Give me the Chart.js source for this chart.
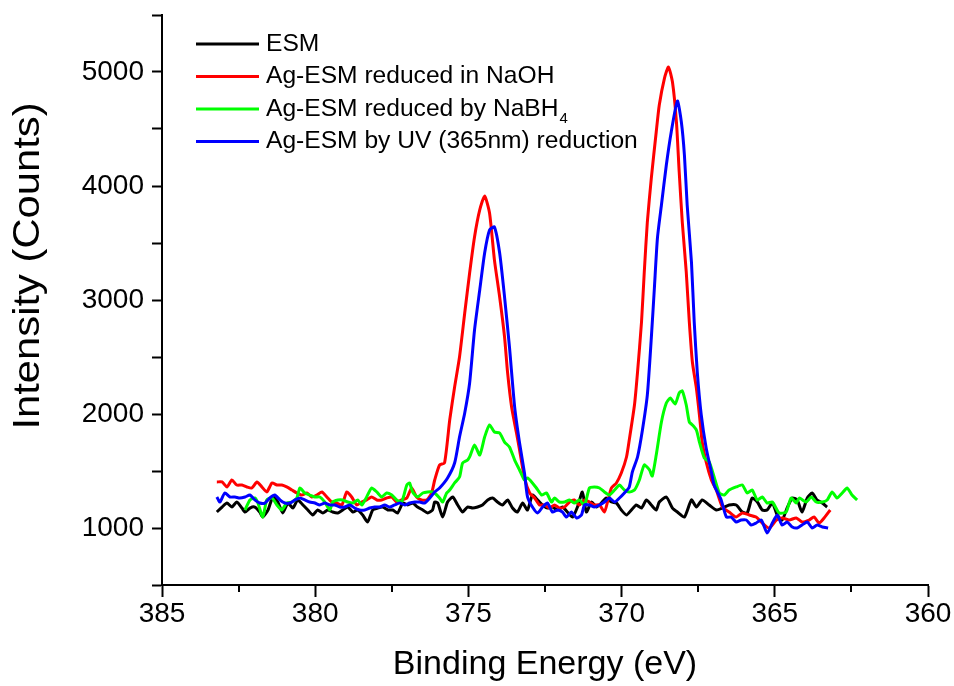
<!DOCTYPE html>
<html>
<head>
<meta charset="utf-8">
<script src="https://cdn.jsdelivr.net/npm/chart.js@4.4.1/dist/chart.umd.min.js"></script>
<style>
  html, body { margin: 0; padding: 0; background: #fff; }
  #wrap { width: 954px; height: 686px; position: relative; }
</style>
</head>
<body>
<div id="wrap"><canvas id="xpsChart"></canvas></div>
<script>
// Ag 3d XPS spectra, binding energy (eV) vs intensity (counts)
const esmE = [383.21, 383.04, 382.88, 382.72, 382.56, 382.39, 382.29, 382.13, 381.97, 381.81, 381.71, 381.54, 381.38, 381.22, 381.06, 380.89, 380.73, 380.57, 380.40, 380.24, 380.08, 379.92, 379.75, 379.59, 379.43, 379.26, 379.10, 378.94, 378.77, 378.61, 378.45, 378.29, 378.12, 377.96, 377.80, 377.63, 377.47, 377.31, 377.14, 376.98, 376.82, 376.66, 376.49, 376.33, 376.17, 376.10, 376.00, 375.84, 375.68, 375.51, 375.35, 375.19, 375.03, 374.86, 374.70, 374.54, 374.37, 374.21, 374.05, 373.89, 373.72, 373.56, 373.40, 373.23, 373.07, 372.91, 372.74, 372.58, 372.42, 372.26, 372.09, 371.93, 371.77, 371.60, 371.44, 371.28, 371.15, 370.98, 370.82, 370.66, 370.50, 370.33, 370.17, 370.01, 369.84, 369.68, 369.52, 369.35, 369.19, 369.03, 368.87, 368.77, 368.54, 368.34, 368.18, 367.95, 367.72, 367.56, 367.37, 367.14, 366.91, 366.71, 366.49, 366.26, 366.06, 365.90, 365.74, 365.57, 365.41, 365.25, 365.08, 364.92, 364.76, 364.60, 364.43, 364.27, 364.11, 363.94, 363.78, 363.62, 363.45, 363.29];
const esmI = [1140, 1184, 1219, 1184, 1228, 1175, 1140, 1175, 1184, 1140, 1096, 1158, 1272, 1228, 1132, 1219, 1175, 1246, 1202, 1158, 1114, 1158, 1132, 1158, 1140, 1132, 1158, 1184, 1140, 1158, 1114, 1053, 1158, 1175, 1184, 1158, 1158, 1132, 1219, 1202, 1219, 1184, 1158, 1132, 1158, 1228, 1219, 1096, 1228, 1272, 1202, 1140, 1184, 1175, 1184, 1202, 1246, 1263, 1228, 1202, 1246, 1175, 1140, 1219, 1158, 1289, 1246, 1202, 1175, 1184, 1158, 1184, 1140, 1096, 1184, 1316, 1140, 1228, 1184, 1219, 1263, 1228, 1219, 1158, 1114, 1158, 1202, 1175, 1246, 1202, 1158, 1228, 1272, 1175, 1140, 1096, 1246, 1184, 1246, 1202, 1158, 1175, 1202, 1202, 1140, 1132, 1263, 1228, 1158, 1158, 1219, 1114, 1070, 1175, 1263, 1246, 1140, 1263, 1307, 1246, 1219, 1184];

const naohE = [383.21, 383.04, 382.88, 382.72, 382.56, 382.39, 382.23, 382.07, 381.90, 381.74, 381.58, 381.41, 381.25, 381.09, 380.93, 380.76, 380.60, 380.44, 380.27, 380.11, 379.95, 379.78, 379.62, 379.46, 379.30, 379.13, 378.97, 378.81, 378.64, 378.48, 378.32, 378.16, 377.99, 377.83, 377.67, 377.50, 377.34, 377.18, 377.01, 376.85, 376.69, 376.53, 376.36, 376.20, 376.10, 375.94, 375.78, 375.61, 375.45, 375.29, 375.12, 374.96, 374.80, 374.63, 374.47, 374.31, 374.15, 373.98, 373.82, 373.72, 373.59, 373.43, 373.33, 373.17, 373.00, 372.84, 372.68, 372.52, 372.35, 372.19, 372.03, 371.86, 371.70, 371.54, 371.38, 371.21, 371.05, 370.89, 370.72, 370.56, 370.46, 370.33, 370.17, 370.01, 369.84, 369.75, 369.58, 369.48, 369.35, 369.26, 369.16, 369.03, 368.87, 368.77, 368.60, 368.47, 368.34, 368.21, 368.12, 368.02, 367.89, 367.79, 367.69, 367.56, 367.46, 367.37, 367.24, 367.07, 366.91, 366.71, 366.49, 366.26, 366.06, 365.83, 365.61, 365.41, 365.18, 364.95, 364.76, 364.53, 364.30, 364.11, 363.88, 363.72, 363.55, 363.39, 363.19];
const naohI = [1404, 1404, 1360, 1421, 1377, 1377, 1360, 1351, 1404, 1360, 1316, 1395, 1377, 1377, 1360, 1333, 1307, 1289, 1307, 1272, 1289, 1316, 1272, 1228, 1219, 1202, 1316, 1272, 1202, 1228, 1246, 1272, 1246, 1246, 1263, 1272, 1228, 1246, 1263, 1351, 1272, 1246, 1246, 1307, 1421, 1553, 1570, 1947, 2237, 2500, 2886, 3237, 3553, 3790, 3912, 3763, 3350, 3026, 2675, 2360, 2061, 1833, 1684, 1439, 1307, 1263, 1202, 1202, 1175, 1202, 1175, 1184, 1228, 1246, 1202, 1246, 1228, 1202, 1202, 1140, 1228, 1351, 1395, 1482, 1623, 1772, 2079, 2368, 2807, 3246, 3684, 4070, 4474, 4711, 4947, 5044, 4912, 4561, 4123, 3684, 3246, 2807, 2456, 2228, 1991, 1754, 1579, 1421, 1333, 1184, 1140, 1096, 1132, 1114, 1096, 1044, 1000, 1070, 1088, 1070, 1088, 1053, 1070, 1096, 1044, 1088, 1158];

const nabh4E = [382.29, 382.13, 381.97, 381.87, 381.71, 381.58, 381.41, 381.25, 381.09, 380.93, 380.76, 380.60, 380.50, 380.34, 380.18, 380.01, 379.85, 379.69, 379.52, 379.43, 379.26, 379.10, 378.94, 378.77, 378.61, 378.48, 378.32, 378.16, 377.99, 377.83, 377.67, 377.50, 377.34, 377.18, 377.01, 376.92, 376.82, 376.66, 376.49, 376.33, 376.17, 376.10, 375.94, 375.84, 375.71, 375.61, 375.45, 375.29, 375.19, 375.03, 374.96, 374.80, 374.63, 374.47, 374.31, 374.15, 373.98, 373.82, 373.66, 373.49, 373.33, 373.17, 373.07, 372.91, 372.78, 372.61, 372.45, 372.29, 372.19, 372.03, 371.86, 371.70, 371.54, 371.38, 371.21, 371.05, 370.89, 370.72, 370.56, 370.40, 370.23, 370.07, 369.91, 369.75, 369.58, 369.42, 369.26, 369.09, 369.00, 368.87, 368.70, 368.54, 368.41, 368.25, 368.12, 368.02, 367.89, 367.79, 367.69, 367.56, 367.46, 367.30, 367.14, 366.98, 366.81, 366.65, 366.49, 366.26, 366.06, 365.90, 365.74, 365.57, 365.41, 365.25, 365.08, 364.86, 364.63, 364.47, 364.30, 364.20, 363.98, 363.81, 363.65, 363.45, 363.29, 363.13, 362.97, 362.80, 362.64, 362.48, 362.31];
const nabh4I = [1158, 1246, 1263, 1219, 1096, 1246, 1263, 1202, 1158, 1219, 1228, 1263, 1351, 1307, 1289, 1272, 1272, 1228, 1158, 1228, 1246, 1246, 1228, 1219, 1246, 1202, 1272, 1351, 1316, 1272, 1307, 1289, 1246, 1228, 1377, 1395, 1316, 1272, 1307, 1316, 1316, 1307, 1263, 1228, 1307, 1333, 1395, 1447, 1570, 1596, 1623, 1728, 1640, 1798, 1904, 1842, 1833, 1754, 1710, 1596, 1509, 1421, 1439, 1395, 1351, 1289, 1307, 1228, 1263, 1228, 1228, 1246, 1219, 1246, 1202, 1351, 1360, 1351, 1316, 1289, 1333, 1377, 1333, 1316, 1333, 1421, 1553, 1509, 1456, 1640, 1930, 2096, 2140, 2088, 2184, 2202, 2079, 1930, 1904, 1860, 1754, 1614, 1579, 1447, 1307, 1289, 1333, 1360, 1377, 1307, 1333, 1246, 1272, 1219, 1228, 1132, 1140, 1263, 1219, 1263, 1228, 1272, 1228, 1228, 1246, 1316, 1263, 1307, 1351, 1289, 1246];

const uvE = [383.21, 383.11, 382.95, 382.78, 382.62, 382.46, 382.29, 382.13, 381.97, 381.81, 381.64, 381.48, 381.32, 381.15, 380.99, 380.83, 380.66, 380.50, 380.34, 380.18, 380.01, 379.85, 379.69, 379.52, 379.36, 379.20, 379.04, 378.87, 378.71, 378.55, 378.38, 378.22, 378.06, 377.89, 377.73, 377.57, 377.41, 377.24, 377.08, 376.92, 376.75, 376.59, 376.43, 376.26, 376.10, 375.94, 375.68, 375.45, 375.29, 375.12, 374.96, 374.80, 374.63, 374.47, 374.31, 374.15, 373.98, 373.82, 373.66, 373.49, 373.33, 373.17, 373.07, 372.91, 372.74, 372.58, 372.42, 372.26, 372.09, 371.93, 371.80, 371.64, 371.47, 371.31, 371.21, 371.05, 370.89, 370.72, 370.56, 370.40, 370.23, 370.07, 369.91, 369.75, 369.65, 369.48, 369.32, 369.16, 369.03, 368.93, 368.83, 368.70, 368.54, 368.38, 368.18, 368.05, 367.95, 367.86, 367.72, 367.63, 367.53, 367.40, 367.24, 367.07, 366.98, 366.75, 366.58, 366.42, 366.26, 366.10, 365.93, 365.77, 365.61, 365.44, 365.25, 365.08, 364.92, 364.76, 364.60, 364.43, 364.27, 364.11, 363.94, 363.78, 363.62, 363.45, 363.26];
const uvI = [1272, 1228, 1307, 1272, 1272, 1263, 1272, 1289, 1246, 1219, 1219, 1263, 1289, 1246, 1219, 1219, 1246, 1263, 1246, 1228, 1219, 1202, 1219, 1202, 1202, 1184, 1184, 1202, 1175, 1158, 1158, 1175, 1184, 1184, 1202, 1184, 1202, 1219, 1202, 1219, 1228, 1228, 1219, 1263, 1316, 1351, 1439, 1570, 1798, 2009, 2272, 2737, 3088, 3412, 3614, 3640, 3412, 3026, 2588, 2061, 1746, 1482, 1272, 1184, 1132, 1184, 1219, 1140, 1158, 1140, 1096, 1140, 1088, 1114, 1202, 1202, 1184, 1202, 1228, 1263, 1228, 1263, 1307, 1360, 1491, 1623, 1860, 2167, 2667, 3105, 3544, 3833, 4184, 4474, 4746, 4561, 4272, 3833, 3333, 2807, 2368, 1991, 1702, 1491, 1377, 1246, 1096, 1096, 1053, 1070, 1070, 1026, 1044, 1070, 956, 1044, 1114, 1026, 1053, 1009, 1000, 1026, 1053, 1000, 1026, 1009, 1000];

const seriesLabels = ['ESM', 'Ag-ESM reduced in NaOH', 'Ag-ESM reduced by NaBH\u2084', 'Ag-ESM by UV (365nm) reduction'];
const seriesColors = ['#000000', '#ff0000', '#00ff00', '#0000ff'];
const minorTicksX = [382.5, 377.5, 372.5, 367.5, 362.5];

const FONT = '"Liberation Sans", Arial, Helvetica, sans-serif';
const SUBS = '\u2080\u2081\u2082\u2083\u2084\u2085\u2086\u2087\u2088\u2089';

function pts(xs, ys) {
  return xs.map((x, i) => ({ x: x, y: ys[i] }));
}

// legend drawn inside the plot, top left, with subscript digits
const innerLegend = {
  id: 'innerLegend',
  afterDatasetsDraw(chart) {
    const { ctx, chartArea } = chart;
    ctx.save();
    ctx.textBaseline = 'middle';
    ctx.textAlign = 'left';
    chart.data.datasets.forEach((ds, i) => {
      const y = chartArea.top + 29 + i * 32.5;
      ctx.strokeStyle = ds.borderColor;
      ctx.lineWidth = 3;
      ctx.beginPath();
      ctx.moveTo(chartArea.left + 34, y);
      ctx.lineTo(chartArea.left + 97, y);
      ctx.stroke();

      let x = chartArea.left + 104;
      let buf = '';
      const flush = () => {
        if (!buf) return;
        ctx.font = '24.6px ' + FONT;
        ctx.fillStyle = '#000';
        ctx.fillText(buf, x, y);
        x += ctx.measureText(buf).width;
        buf = '';
      };
      for (const ch of ds.label) {
        const d = SUBS.indexOf(ch);
        if (d >= 0) {
          flush();
          ctx.font = '15px ' + FONT;
          ctx.fillText(String(d), x + 1, y + 10);
          x += ctx.measureText(String(d)).width + 1;
        } else {
          buf += ch;
        }
      }
      flush();
    });
    ctx.restore();
  }
};

// shorter minor ticks on the energy axis + rotated y title
const axisExtras = {
  id: 'axisExtras',
  afterDraw(chart) {
    const { ctx, chartArea } = chart;
    const xs = chart.scales.x;
    ctx.save();
    ctx.strokeStyle = '#000';
    ctx.lineWidth = 2;
    minorTicksX.forEach(v => {
      const px = Math.round(xs.getPixelForValue(v));
      ctx.beginPath();
      ctx.moveTo(px, chartArea.bottom);
      ctx.lineTo(px, chartArea.bottom + 7);
      ctx.stroke();
    });

    ctx.translate(29, 266);
    ctx.rotate(-Math.PI / 2);
    ctx.scale(1.16, 1);
    ctx.font = '36px ' + FONT;
    ctx.fillStyle = '#000';
    ctx.textAlign = 'center';
    ctx.textBaseline = 'middle';
    ctx.fillText('Intensity (Counts)', 0, 0);
    ctx.restore();
  }
};

const ctxXps = document.getElementById('xpsChart').getContext('2d');

new Chart(ctxXps, {
  type: 'line',
  data: {
    datasets: [
      { label: seriesLabels[0], data: pts(esmE, esmI), borderColor: seriesColors[0], order: 4 },
      { label: seriesLabels[1], data: pts(naohE, naohI), borderColor: seriesColors[1], order: 3 },
      { label: seriesLabels[2], data: pts(nabh4E, nabh4I), borderColor: seriesColors[2], order: 2 },
      { label: seriesLabels[3], data: pts(uvE, uvI), borderColor: seriesColors[3], order: 1 }
    ].map(d => Object.assign(d, { borderWidth: 3, pointRadius: 0, tension: 0.2, fill: false }))
  },
  options: {
    responsive: true,
    maintainAspectRatio: false,
    animation: false,
    layout: { padding: { top: 15, right: 26, bottom: 0, left: 0 } },
    scales: {
      x: {
        type: 'linear',
        reverse: true,
        min: 360,
        max: 385,
        border: { display: true, color: '#000', width: 2 },
        grid: { drawOnChartArea: false, drawTicks: true, tickLength: 12, tickColor: '#000', tickWidth: 2 },
        ticks: {
          stepSize: 5,
          color: '#000',
          padding: 3,
          maxRotation: 0,
          autoSkip: false,
          font: { family: FONT, size: 28, lineHeight: 1 },
          callback: v => String(v)
        },
        title: {
          display: true,
          text: 'Binding Energy (eV)',
          color: '#000',
          font: { family: FONT, size: 34 },
          padding: { top: 0, bottom: 1 }
        },
        afterFit(scale) {
          scale.height = 101;
          scale.paddingLeft = 0;
          scale.paddingRight = 0;
        }
      },
      y: {
        min: 500,
        max: 5500,
        border: { display: true, color: '#000', width: 2 },
        grid: { drawOnChartArea: false, drawTicks: true, tickLength: 10, tickColor: '#000', tickWidth: 2 },
        ticks: {
          stepSize: 500,
          color: '#000',
          padding: 8,
          font: { family: FONT, size: 28, lineHeight: 1 },
          callback: v => (v % 1000 === 0 ? String(v) : '')
        },
        afterFit(scale) {
          scale.width = 162;
          scale.paddingTop = 0;
          scale.paddingBottom = 0;
        }
      }
    },
    plugins: {
      legend: { display: false },
      tooltip: { enabled: false }
    }
  },
  plugins: [innerLegend, axisExtras]
});
</script>
</body>
</html>
